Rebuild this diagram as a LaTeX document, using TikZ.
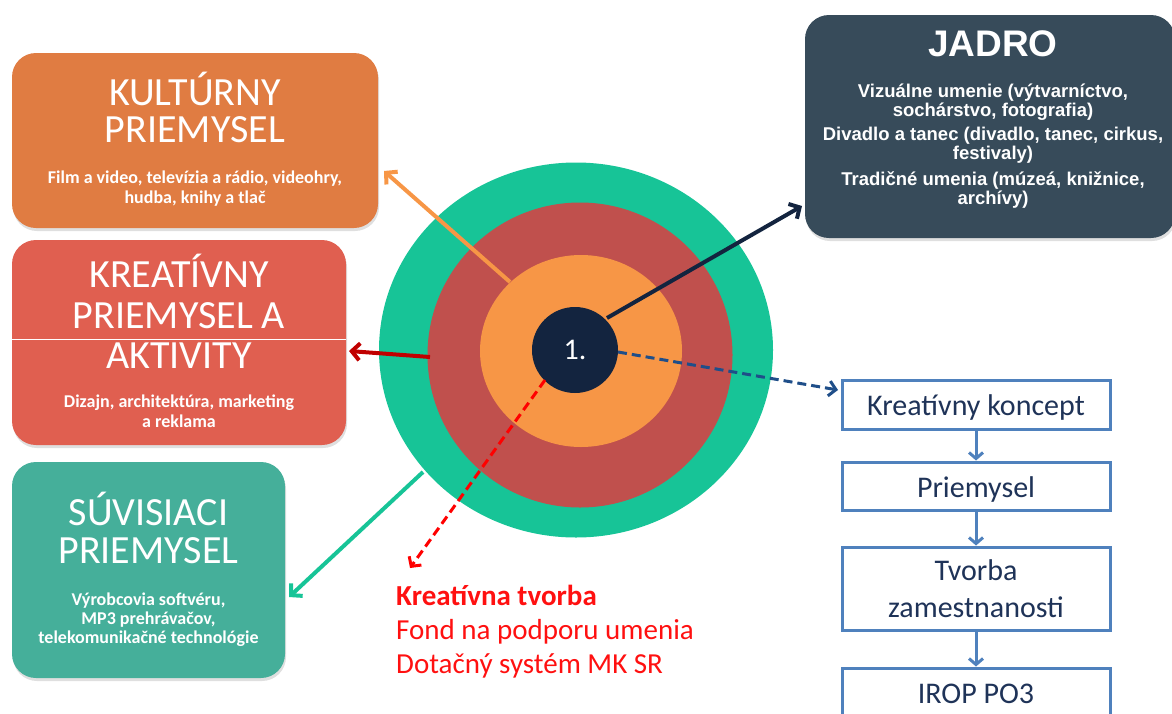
\documentclass[tikz,border=0pt]{standalone}
\usepackage{fontspec}
\setmainfont{Carlito}
\newfontfamily\arialf{Liberation Sans}
\usetikzlibrary{arrows.meta,shadows,shapes.geometric}
\definecolor{cOrBox}{HTML}{E07C42}
\definecolor{cRdBox}{HTML}{E05F50}
\definecolor{cTlBox}{HTML}{45AF9A}
\definecolor{cJdBox}{HTML}{374B5A}
\definecolor{cRingG}{HTML}{17C497}
\definecolor{cRingR}{HTML}{C0504D}
\definecolor{cRingO}{HTML}{F79646}
\definecolor{cCore}{HTML}{13243F}
\definecolor{cFlow}{HTML}{4F81BD}
\definecolor{cFlowTxt}{HTML}{1F3358}
\definecolor{cDkRed}{HTML}{C00000}
\definecolor{cDash}{HTML}{1F4E89}
\definecolor{cRedTxt}{HTML}{FF1010}
\begin{document}
\begin{tikzpicture}[x=1pt,y=-1pt,
  catbox/.style={rounded corners=24pt, inner sep=0pt, draw=none,
    drop shadow={opacity=0.25, shadow xshift=1pt, shadow yshift=-3pt}},
  ttl/.style={text=white, font=\fontsize{40}{42}\selectfont, anchor=base, inner sep=0pt},
  sub/.style={text=white, font=\bfseries\fontsize{18}{20}\selectfont, anchor=base, inner sep=0pt},
  jttl/.style={text=white, font=\arialf\bfseries\fontsize{37}{40}\selectfont, anchor=base, inner sep=0pt},
  jsub/.style={text=white, font=\arialf\bfseries\fontsize{18.5}{20}\selectfont, anchor=base, inner sep=0pt},
  flowbox/.style={draw=cFlow, line width=3pt, fill=white, minimum width=268pt, inner sep=0pt},
  flowtxt/.style={text=cFlowTxt, font=\fontsize{30}{32}\selectfont, anchor=base, inner sep=0pt},
  redtxt/.style={text=cRedTxt, font=\fontsize{29}{32}\selectfont, anchor=base west, inner sep=0pt},
  ring/.style={ellipse, draw=none, inner sep=0pt},
  arr/.style={line width=4pt, -{Straight Barb[length=8pt,width=17pt]}},
  darr/.style={line width=3pt, dash pattern=on 9pt off 5pt, -{Straight Barb[length=7pt,width=15pt]}},
  flowarr/.style={draw=cFlow, line width=3pt, -{Straight Barb[length=6pt,width=14pt]}}
]
\useasboundingbox (0,0) rectangle (1172,713);

% category boxes
\node[catbox, fill=cOrBox, minimum width=366pt, minimum height=175pt] (kult) at (195,140.5) {};
\node[catbox, fill=cRdBox, minimum width=334pt, minimum height=205pt] (kreat) at (179,342.5) {};
\node[catbox, fill=cTlBox, minimum width=273pt, minimum height=216pt] (suv) at (148.5,570) {};
\node[catbox, fill=cJdBox, minimum width=370pt, minimum height=223pt] (jadro) at (990,126.5) {};

\draw[white, line width=0.8pt] (kreat.west |- 0,339) coordinate (lnA) -- (kreat.east |- 0,339) coordinate (lnB);

% KULTURNY texts
\node[ttl] (k1) at (195,105) {KULTÚRNY};
\node[ttl] (k2) at (195,142) {PRIEMYSEL};
\node[sub] (k3) at (195,183) {Film a video, televízia a rádio, videohry,};
\node[sub] (k4) at (195,203) {hudba, knihy a tlač};

% KREATIVNY texts
\node[ttl] (r1) at (179,287) {KREATÍVNY};
\node[ttl] (r2) at (179,328) {PRIEMYSEL A};
\node[ttl] (r3) at (179,368) {AKTIVITY};
\node[sub] (r4) at (179,407) {Dizajn, architektúra, marketing};
\node[sub] (r5) at (179,427) {a reklama};

% SUVISIACI texts
\node[ttl] (s1) at (148.5,525) {SÚVISIACI};
\node[ttl] (s2) at (148.5,563) {PRIEMYSEL};
\node[sub] (s3) at (148.5,605) {Výrobcovia softvéru,};
\node[sub] (s4) at (148.5,624) {MP3 prehrávačov,};
\node[sub] (s5) at (148.5,643) {telekomunikačné technológie};

% JADRO texts
\node[jttl] (j0) at (993,56) {JADRO};
\node[jsub] (j1) at (993,97) {Vizuálne umenie (výtvarníctvo,};
\node[jsub] (j2) at (993,116) {sochárstvo, fotografia)};
\node[jsub] (j3) at (993,140) {Divadlo a tanec (divadlo, tanec, cirkus,};
\node[jsub] (j4) at (993,159) {festivaly)};
\node[jsub] (j5) at (993,185) {Tradičné umenia (múzeá, knižnice,};
\node[jsub] (j6) at (993,204) {archívy)};

% rings
\node[ring, fill=cRingG, minimum width=394pt, minimum height=375pt] (rg) at (576,350) {};
\node[ring, fill=cRingR, minimum width=305pt, minimum height=305pt] (rr) at (580,355) {};
\node[ring, fill=cRingO, minimum width=202pt, minimum height=192pt] (ro) at (581,351) {};
\node[circle, fill=cCore, minimum size=86pt, inner sep=0pt, text=white,
      font=\fontsize{30}{32}\selectfont] (core) at (575,350) {1.};

% arrow end points
\coordinate (oS) at (510,282);  \coordinate (oE) at (384,171);
\coordinate (nS) at (607,318);  \coordinate (nE) at (802,206);
\coordinate (rS) at (430,357);  \coordinate (rE) at (349,351);
\coordinate (gS) at (423,472);  \coordinate (gE) at (289,597);
\coordinate (dS) at (545,380);  \coordinate (dE) at (410,568);
\coordinate (bS) at (618,352);  \coordinate (bE) at (838,390);

\draw[arr, draw=cRingO] (oS) -- (oE);
\draw[arr, draw=cCore] (nS) -- (nE);
\draw[arr, draw=cDkRed] (rS) -- (rE);
\draw[arr, draw=cRingG] (gS) -- (gE);
\draw[darr, draw=red] (dS) -- (dE);
\draw[darr, draw=cDash] (bS) -- (bE);

% flow boxes
\node[flowbox, minimum height=49pt] (f1) at (976,404.5) {};
\node[flowbox, minimum height=48pt] (f2) at (976,486) {};
\node[flowbox, minimum height=83pt] (f3) at (976,588.5) {};
\node[flowbox, minimum height=62pt] (f4) at (976,699) {};
\node[flowtxt] (t1) at (976,415) {Kreatívny koncept};
\node[flowtxt] (t2) at (976,497) {Priemysel};
\node[flowtxt] (t3) at (976,580) {Tvorba};
\node[flowtxt] (t3b) at (976,617) {zamestnanosti};
\node[flowtxt] (t4) at (976,703) {IROP PO3};
\draw[flowarr] (f1) -- (f2);
\draw[flowarr] (f2) -- (f3);
\draw[flowarr] (f3) -- (f4);

% bottom red text
\node[redtxt, font=\bfseries\fontsize{29}{32}\selectfont] (b1) at (396,605) {Kreatívna tvorba};
\node[redtxt] (b2) at (396,639) {Fond na podporu umenia};
\node[redtxt] (b3) at (396,673) {Dotačný systém MK SR};
\end{tikzpicture}
\end{document}
